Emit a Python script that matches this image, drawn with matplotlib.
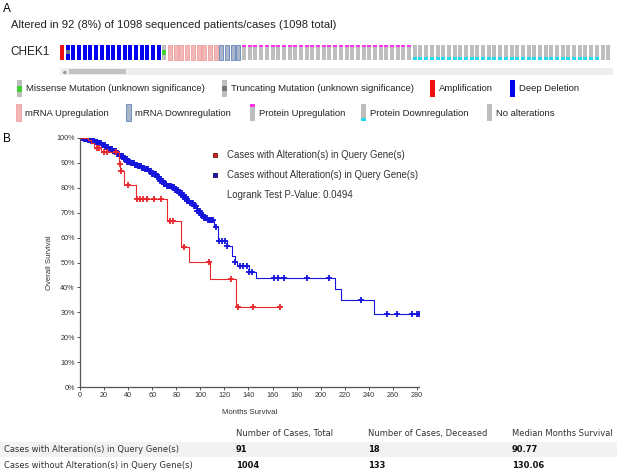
import numpy as np
import matplotlib.pyplot as plt
from matplotlib.patches import Rectangle

W, H = 617, 474

# ---- panel A: oncoprint columns (type, how many columns)
onco_types = ["amp", "deep_trunc", "deep", "missense", "mrna_up", "mrna_down",
              "prot_up", "prot_down", "none"]
onco_counts = [1, 1, 16, 1, 9, 4, 30, 33, 2]

legend_row1 = ["missense", "trunc", "amp", "deep"]
legend_row1_text = ["Missense Mutation (unknown significance)",
                    "Truncating Mutation (unknown significance)",
                    "Amplification", "Deep Deletion"]
legend_row2 = ["mrna_up", "mrna_down", "prot_up", "prot_down", "none"]
legend_row2_text = ["mRNA Upregulation", "mRNA Downregulation",
                    "Protein Upregulation", "Protein Downregulation",
                    "No alterations"]

# ---- panel B: Kaplan-Meier steps (months, % surviving)
red_event_months = [7, 9.5, 11.5, 17.5, 32.6, 33.4, 36.6, 46.5, 72, 83.6, 90.8, 107.8, 130]
red_event_surv = [98.9, 97.8, 96.0, 94.2, 89.4, 86.8, 81.1, 75.3, 66.6, 56.4, 50.3, 43.2, 32.3]
red_censor_months = [13.9, 16.1, 19.7, 22.4, 30.2, 33.0, 33.9, 39.6, 47.6, 49.9, 52.1,
                     55.4, 61.5, 67.5, 74.8, 77.5, 86.5, 107.2, 125.2, 131.6, 143.5, 166.2]

blue_event_months = [3, 6, 9, 12, 15, 18, 21, 24, 27, 30, 33, 36, 39, 42, 45, 48, 51, 54,
                     57, 60, 63, 66, 69, 72, 76, 79, 82, 85, 88, 91, 94, 97, 100, 103,
                     106, 111.6, 114.4, 121.9, 126, 128.8, 130.7, 140.4, 146.2, 211.9,
                     216.6, 244.4]
blue_event_surv = [99.6, 99.2, 98.8, 98.3, 97.7, 97.0, 96.3, 95.6, 94.7, 93.6, 92.5, 91.4,
                   90.4, 89.8, 89.2, 88.6, 88.0, 87.3, 86.5, 85.5, 84.2, 82.8, 81.6, 80.8,
                   80.2, 79.2, 77.8, 76.4, 74.8, 73.7, 72.5, 70.8, 69.2, 68.0, 67.2, 64.4,
                   58.6, 56.8, 52.5, 50.4, 48.6, 46.3, 43.9, 39.4, 35.0, 29.3]
blue_censor_months = [0.8, 1.4, 2.3, 3.0, 3.5, 4.4, 5.2, 5.7, 6.6, 7.3, 8.0, 8.6, 9.5, 10.2,
                      10.8, 11.7, 12.3, 13.0, 13.9, 14.5, 15.2, 16.1, 16.7, 17.4, 18.3,
                      18.9, 19.6, 20.5, 21.1, 21.8, 22.7, 23.3, 24.0, 24.9, 25.5, 26.2,
                      27.1, 27.7, 28.4, 29.3, 29.9, 30.6, 31.5, 32.1, 32.8, 33.7, 34.3,
                      35.0, 35.9, 36.5, 37.2, 38.1, 38.7, 39.4, 40.3, 40.9, 41.6, 42.5,
                      43.1, 43.8, 44.7, 45.3, 46.0, 46.9, 47.5, 48.2, 49.1, 49.7, 50.4,
                      51.3, 51.9, 52.6, 53.5, 54.1, 54.8, 55.7, 56.3, 57.0, 57.9, 58.5,
                      59.2, 60.1, 60.7, 61.4, 62.3, 62.9, 63.6, 64.5, 65.1, 65.8, 66.7,
                      67.3, 68.0, 68.9, 69.5, 70.2, 71.1, 71.7, 72.4, 73.3, 73.9, 74.6,
                      75.5, 76.1, 76.8, 77.7, 78.3, 79.0, 79.9, 80.5, 81.2, 82.1, 82.7,
                      83.4, 84.3, 84.9, 85.6, 86.5, 87.1, 87.8, 88.7, 89.3, 90.0, 90.9,
                      91.5, 92.2, 93.1, 93.7, 94.4, 95.3, 95.9, 96.6, 97.5, 98.1, 98.8,
                      99.7, 100.3, 101.0, 101.9, 102.5, 103.2, 104.1, 104.7, 105.4, 106.3,
                      106.9, 107.6, 108.5, 109.1, 109.8, 110.6, 112.7, 115.5, 118.2, 120.5,
                      122.5, 129, 133, 135.7, 139, 140.7, 142.6, 161.2, 164.8, 169.5,
                      188.3, 206.9, 233.3, 255.3, 263.1, 275.6, 280.3, 281.5]

km_labels = ["Cases with Alteration(s) in Query Gene(s)",
             "Cases without Alteration(s) in Query Gene(s)"]
pvalue_text = "Logrank Test P-Value: 0.0494"

# ---- summary table
table_header = ["", "Number of Cases, Total", "Number of Cases, Deceased", "Median Months Survival"]
table_rows = km_labels
cases_total = ["91", "1004"]
cases_deceased = ["18", "133"]
median_months = ["90.77", "130.06"]

plt.rcParams['font.family'] = ['Liberation Sans', 'DejaVu Sans']
fig = plt.figure(figsize=(W / 100, H / 100), dpi=100)
ax0 = fig.add_axes([0, 0, 1, 1])
ax0.set_xlim(0, W)
ax0.set_ylim(H, 0)
ax0.axis("off")

GREY = "#bebebe"


def glyph(ax, x, y, w, h, kind):
    face, edge = GREY, "none"
    if kind == "amp":
        face = "#ee1111"
    elif kind in ("deep", "deep_trunc"):
        face = "#0000ee"
    elif kind == "mrna_up":
        face, edge = "#f2b8b8", "#ef9d9d"
    elif kind == "mrna_down":
        face, edge = "#aab6c8", "#5f86bb"
    ax.add_patch(Rectangle((x, y), w, h, facecolor=face, edgecolor=edge, lw=0.6))
    if kind in ("deep_trunc", "trunc"):
        ax.add_patch(Rectangle((x, y + h * 0.38), w, h * 0.28, facecolor="#6f7780", lw=0))
    if kind == "missense":
        ax.add_patch(Rectangle((x, y + h * 0.38), w, h * 0.3, facecolor="#3fcf2f", lw=0))
    if kind == "prot_up":
        ax.add_patch(Rectangle((x, y), w, h * 0.17, facecolor="#ff33ee", lw=0))
    if kind == "prot_down":
        ax.add_patch(Rectangle((x, y + h * 0.8), w, h * 0.2, facecolor="#22d8ee", lw=0))


# panel A
ax0.text(3, 8.5, "A", fontsize=8.5, va="center", ha="left")
ax0.text(11, 25, "Altered in 92 (8%) of 1098 sequenced patients/cases (1098 total)",
         fontsize=8.1, va="center", ha="left", color="#222222")
ax0.text(10, 51.5, "CHEK1", fontsize=8.5, va="center", ha="left", color="#222222")

pitch = 5.69
col = 0
for kind, n in zip(onco_types, onco_counts):
    for _ in range(n):
        glyph(ax0, 60 + col * pitch, 44.5, 4.0, 15.0, kind)
        col += 1

# scroll bar under the track
ax0.add_patch(Rectangle((60, 68), 553, 7, facecolor="#eeeeee", lw=0))
ax0.add_patch(Rectangle((68.5, 68.8), 57, 5.4, facecolor="#c2c2c2", lw=0))
ax0.plot([63.5], [71.5], marker="<", ms=1.8, color="#999999")

row1_x = [17, 222, 430, 510]
row2_x = [16, 126, 250, 361, 487]
for kind, label, x in zip(legend_row1, legend_row1_text, row1_x):
    glyph(ax0, x, 80, 4.5, 17, kind)
    ax0.text(x + 9, 88.5, label, fontsize=6.8, va="center", ha="left", color="#222222")
for kind, label, x in zip(legend_row2, legend_row2_text, row2_x):
    glyph(ax0, x, 104, 4.5, 17, kind)
    ax0.text(x + 9, 113, label, fontsize=6.8, va="center", ha="left", color="#222222")

# panel B
ax0.text(3, 139, "B", fontsize=8.5, va="center", ha="left")

ax = fig.add_axes([80 / W, 1 - 387.3 / H, (419.3 - 80) / W, (387.3 - 137.7) / H])
ax.patch.set_alpha(0)
ax.set_xlim(0, 282)
ax.set_ylim(0, 100)


def km(ax, ev_t, ev_s, cens_t, color, lw, ms):
    t = np.concatenate([[0], ev_t])
    s = np.concatenate([[100], ev_s])
    end = max(max(cens_t), t[-1])
    ax.step(np.append(t, end), np.append(s, s[-1]), where="post", color=color, lw=lw)
    idx = np.searchsorted(t, cens_t, side="right") - 1
    ax.plot(cens_t, s[idx], ls="none", marker="+", ms=ms, mew=1.3, color=color)


km(ax, blue_event_months, blue_event_surv, blue_censor_months, "#1414dd", 0.8, 4.6)
km(ax, red_event_months, red_event_surv, red_censor_months, "#e8262b", 0.8, 4.2)

ax.set_xticks(np.arange(0, 281, 20))
ax.set_yticks(np.arange(0, 101, 10))
ax.set_yticklabels([f"{v}%" for v in range(0, 101, 10)])
ax.tick_params(labelsize=5.2, length=2.5, width=0.6, colors="#333333", pad=1.2)
for side in ("top", "right"):
    ax.spines[side].set_visible(False)
for side in ("left", "bottom"):
    ax.spines[side].set_color("#555555")
    ax.spines[side].set_linewidth(0.9)
ax.set_ylabel("Overall Survival", fontsize=5.6, color="#333333", labelpad=2.7)
ax.set_xlabel("Months Survival", fontsize=5.6, color="#333333", labelpad=6.7)

# legend drawn in pixel space
ax0.add_patch(Rectangle((212.5, 153), 4, 4, facecolor="#dd2222", edgecolor="#661111", lw=0.6))
ax0.add_patch(Rectangle((212.5, 173), 4, 4, facecolor="#1a1ab0", edgecolor="#0a0a55", lw=0.6))
ax0.text(227, 155, km_labels[0], fontsize=6.9, va="center", ha="left", color="#333333")
ax0.text(227, 175, km_labels[1], fontsize=6.9, va="center", ha="left", color="#333333")
ax0.text(227, 195, pvalue_text, fontsize=6.9, va="center", ha="left", color="#333333")

# summary table
ax0.add_patch(Rectangle((0, 442), W, 15, facecolor="#f2f2f2", lw=0))
col_x = [4, 236, 368, 512]
row_base = [436, 452.5, 467.5]
for x, label in zip(col_x, table_header):
    ax0.text(x, row_base[0], label, fontsize=6.0, family="DejaVu Sans", va="baseline",
             ha="left", color="#333333")
for i, name in enumerate(table_rows):
    vals = [cases_total[i], cases_deceased[i], median_months[i]]
    ax0.text(col_x[0], row_base[i + 1], name, fontsize=6.0, family="DejaVu Sans",
             va="baseline", ha="left", color="#333333")
    for x, v in zip(col_x[1:], vals):
        ax0.text(x, row_base[i + 1], v, fontsize=6.0, family="DejaVu Sans", weight="bold",
                 va="baseline", ha="left", color="#111111")

fig.savefig("out.png", dpi=100)
